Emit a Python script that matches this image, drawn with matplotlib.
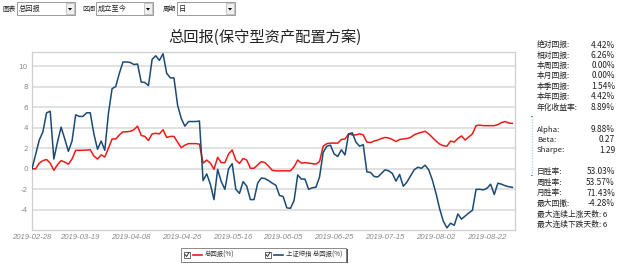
import matplotlib
matplotlib.use("Agg")
import matplotlib.pyplot as plt
from matplotlib.patches import Rectangle, Polygon
import pandas as pd

CJK = ['Noto Sans CJK SC', 'DejaVu Sans']

# ---------------- data ----------------
dates = pd.bdate_range('2019-02-28', '2019-09-02')
tick_dates = ['2019-02-28', '2019-03-19', '2019-04-08', '2019-04-26', '2019-05-16',
              '2019-06-05', '2019-06-25', '2019-07-15', '2019-08-02', '2019-08-22']
y_ticks = [-4, -2, 0, 2, 4, 6, 8, 10]

fund_return = [
    0, 0, 0.55, 0.8, 0.9, 0.55, -0.15, 0.4, 0.8, 0.65,
    0.45, 0.95, 1.8, 1.8, 1.8, 1.82, 1.85, 1.25, 0.95, 1.35,
    1.15, 2.0, 2.9, 2.9, 3.3, 3.6, 3.6, 3.65, 3.8, 4.15,
    3.25, 3.15, 2.75, 3.4, 3.45, 3.4, 3.8, 3.05, 3.15, 3.15,
    2.6, 2.05, 2.3, 2.45, 2.45, 2.45, 2.4, 0.55, 0.85, 0.55,
    -0.05, 1.12, 0.6, 0.6, 1.44, 1.83, 0.85, 0.53, 1.0, 0.85,
    0.05, 0.05, 0.37, 0.7, 0.6, 0.25, -0.15, -0.2, -0.2, -0.2,
    -0.2, -0.2, 0.2, 0.85, 0.55, 0.6, 0.55, 0.5, 0.45, 0.7,
    2.2, 2.45, 2.5, 2.5, 2.5, 2.85, 2.9, 3.4, 3.3, 3.3,
    3.4, 3.3, 2.6, 2.55, 2.7, 2.8, 2.95, 3.05, 3.0, 2.85,
    2.65, 2.85, 2.9, 2.95, 3.05, 3.3, 3.45, 3.55, 3.65, 3.4,
    3.05, 2.7, 2.4, 2.25, 2.2, 2.7, 2.6, 2.95, 3.2, 2.8,
    3.1, 3.4, 4.2, 4.25, 4.2, 4.2, 4.2, 4.2, 4.3, 4.5,
    4.6, 4.45, 4.42,
]
index_return = [
    0, 1.4, 2.8, 3.6, 5.45, 5.6, 0.95, 2.6, 4.05, 2.9,
    1.7, 2.7, 5.25, 5.1, 5.1, 5.45, 5.45, 3.4, 1.9, 2.7,
    1.8, 5.4, 7.8, 8.0, 9.3, 10.4, 10.4, 10.35, 10.15, 10.2,
    8.45, 8.4, 8.1, 10.65, 11.0, 10.55, 11.2, 9.3, 8.85, 8.85,
    6.2, 4.9, 4.15, 4.6, 4.6, 4.6, 4.65, -1.15, -0.5, -1.5,
    -3.0, -0.05, -1.25, -2.0, 0.0, 0.5, -2.0, -2.4, -1.25, -1.7,
    -3.0, -3.0, -1.4, -0.9, -0.95, -1.15, -1.4, -1.6, -2.6, -2.7,
    -3.8, -3.85, -3.1, -0.6, -1.0, -1.0, -2.0, -1.85, -1.8, -0.8,
    1.6, 2.2, 2.3, 1.45, 1.2, 1.85, 1.35, 3.4, 3.5, 2.6,
    2.2, 2.35, -0.3, -0.35, -0.75, -0.8, -0.45, -0.1, -0.2, -0.45,
    -1.2, -0.55, -1.7, -1.3, -0.7, -0.1, 0.15, 0.05, 0.35, -0.1,
    -1.1, -2.4, -3.9, -5.1, -5.75, -5.3, -5.5, -4.4, -4.9, -4.6,
    -4.3, -4.05, -2.0, -2.0, -2.05, -1.9, -1.5, -2.5, -1.4, -1.5,
    -1.65, -1.75, -1.8,
]
title = '总回报(保守型资产配置方案)'
series_names = ['总回报(%)', '上证综指 总回报(%)']
stats_labels_1 = ['绝对回报:', '相对回报:', '本周回报:', '本月回报:', '本季回报:', '本年回报:', '年化收益率:']
stats_values_1 = ['4.42%', '6.26%', '0.00%', '0.00%', '1.54%', '4.42%', '8.89%']
stats_labels_2 = ['Alpha:', 'Beta:', 'Sharpe:']
stats_values_2 = ['9.88%', '0.27', '1.29']
stats_labels_3 = ['日胜率:', '周胜率:', '月胜率:', '最大回撤:']
stats_values_3 = ['53.03%', '53.57%', '71.43%', '-4.28%']
streak_texts = ['最大连续上涨天数: 6', '最大连续下跌天数: 6']
controls = [('图表', '总回报'), ('区间', '成立至今'), ('周期', '日')]

RED = '#f01818'
BLUE = '#1c4a73'

W, H = 617, 265
fig = plt.figure(figsize=(W / 100, H / 100), dpi=100)
fig.patch.set_facecolor('white')


def fx(x):
    return x / W


def fy(y):
    return 1 - y / H


ax = fig.add_axes([fx(32), fy(230), fx(515) - fx(32), fy(52) - fy(230)])
x = list(range(len(dates)))
ax.plot(x, fund_return, color=RED, lw=1.1, zorder=3)
ax.plot(x, index_return, color=BLUE, lw=1.1, zorder=3)
ax.set_xlim(0, 132.7)
ax.set_ylim(-5.96, 11.37)
ax.set_yticks(y_ticks)
ax.set_yticklabels([str(v) for v in y_ticks])
date_strs = [d.strftime('%Y-%m-%d') for d in dates]
tpos = [date_strs.index(t) for t in tick_dates]
ax.set_xticks(tpos)
ax.set_xticklabels(tick_dates, fontstyle='italic', family='Liberation Sans')
ax.tick_params(axis='x', length=0, pad=3, labelsize=5.6, colors='#8a8a8a')
ax.tick_params(axis='y', length=0, pad=3, labelsize=5.2, colors='#8a8a8a')
ax.grid(axis='y', color='#d9d9d9', lw=1.1)
ax.set_axisbelow(True)
for s in ax.spines.values():
    s.set_color('#cfcfcf')
    s.set_linewidth(0.9)

# title
fig.text(fx(265), fy(37), title, ha='center', va='center', fontsize=11, family=CJK, color='#222222')

# controls row
ctrl_boxes = [(2, 17, 75), (82, 96, 153), (163, 177, 235)]
for (lab, val), (lx, bx0, bx1) in zip(controls, ctrl_boxes):
    fig.text(fx(lx), fy(9), lab, ha='left', va='center', fontsize=4.8, family=CJK, color='#222')
    fig.patches.append(Rectangle((fx(bx0), fy(15)), fx(bx1 - bx0), fy(2) - fy(15),
                                 transform=fig.transFigure, facecolor='white', edgecolor='#8a8a8a', lw=0.6))
    fig.text(fx(bx0 + 2), fy(9), val, ha='left', va='center', fontsize=5.2, family=CJK, color='#222')
    fig.patches.append(Rectangle((fx(bx1 - 9), fy(14)), fx(8), fy(3) - fy(14),
                                 transform=fig.transFigure, facecolor='#f0f0f0', edgecolor='#b0b0b0', lw=0.5))
    cx = bx1 - 5
    fig.patches.append(Polygon([(fx(cx - 2), fy(8)), (fx(cx + 2), fy(8)), (fx(cx), fy(10.5))],
                               closed=True, transform=fig.transFigure, facecolor='black', edgecolor='none'))

# legend box
fig.patches.append(Rectangle((fx(183), fy(263)), fx(165), fy(249) - fy(263),
                             transform=fig.transFigure, facecolor='#555555', edgecolor='none'))
fig.patches.append(Rectangle((fx(181), fy(261.5)), fx(165), fy(248) - fy(261.5),
                             transform=fig.transFigure, facecolor='white', edgecolor='#777777', lw=0.6))
legend_x = [(184, 193, 205), (265, 274, 286)]
for name, col, (cbx, lx0, tx) in zip(series_names, [RED, BLUE], legend_x):
    fig.patches.append(Rectangle((fx(cbx), fy(258)), fx(6), fy(252) - fy(258),
                                 transform=fig.transFigure, facecolor='white', edgecolor='#333', lw=0.5))
    fig.lines.append(plt.Line2D([fx(cbx + 1), fx(cbx + 2.5), fx(cbx + 5)], [fy(254.5), fy(256.5), fy(252.5)],
                                transform=fig.transFigure, color='#111', lw=0.6))
    fig.lines.append(plt.Line2D([fx(lx0), fx(lx0 + 9)], [fy(255), fy(255)],
                                transform=fig.transFigure, color=col, lw=1.2))
    fig.text(fx(tx), fy(255), name, ha='left', va='center', fontsize=4.6, family=CJK, color='#333')

# stats panel
LX, RX = 537, 615
ys1 = [45, 55.5, 66, 76, 86.5, 97, 107.5]
for lab, val, yy in zip(stats_labels_1, stats_values_1, ys1):
    fig.text(fx(LX), fy(yy), lab, ha='left', va='center', fontsize=5.6, family=CJK, color='#222')
    fig.text(fx(RX), fy(yy), val, ha='right', va='center', fontsize=6.0, family=CJK, color='#222')
ys2 = [129.5, 140, 150.5]
for lab, val, yy in zip(stats_labels_2, stats_values_2, ys2):
    fig.text(fx(LX), fy(yy), lab, ha='left', va='center', fontsize=5.6, family=CJK, color='#222')
    fig.text(fx(RX), fy(yy), val, ha='right', va='center', fontsize=6.0, family=CJK, color='#222')
ys3 = [172, 182.5, 193, 203.5]
for lab, val, yy in zip(stats_labels_3, stats_values_3, ys3):
    fig.text(fx(LX), fy(yy), lab, ha='left', va='center', fontsize=5.6, family=CJK, color='#222')
    fig.text(fx(RX), fy(yy), val, ha='right', va='center', fontsize=6.0, family=CJK, color='#222')
for t, yy in zip(streak_texts, [214.5, 225]):
    fig.text(fx(LX), fy(yy), t, ha='left', va='center', fontsize=5.6, family=CJK, color='#222')

# thin scroll indicator
fig.lines.append(plt.Line2D([fx(532), fx(532)], [fy(116), fy(175)], transform=fig.transFigure,
                            color='#c8d4e4', lw=1.0, ls=(0, (1, 1))))
for yy in (116, 175):
    fig.patches.append(Rectangle((fx(531.3), fy(yy + 1)), fx(1.6), fy(yy) - fy(yy + 1),
                                 transform=fig.transFigure, facecolor='#4a7ac0', edgecolor='none'))

fig.savefig('out.png', dpi=100, facecolor='white')
